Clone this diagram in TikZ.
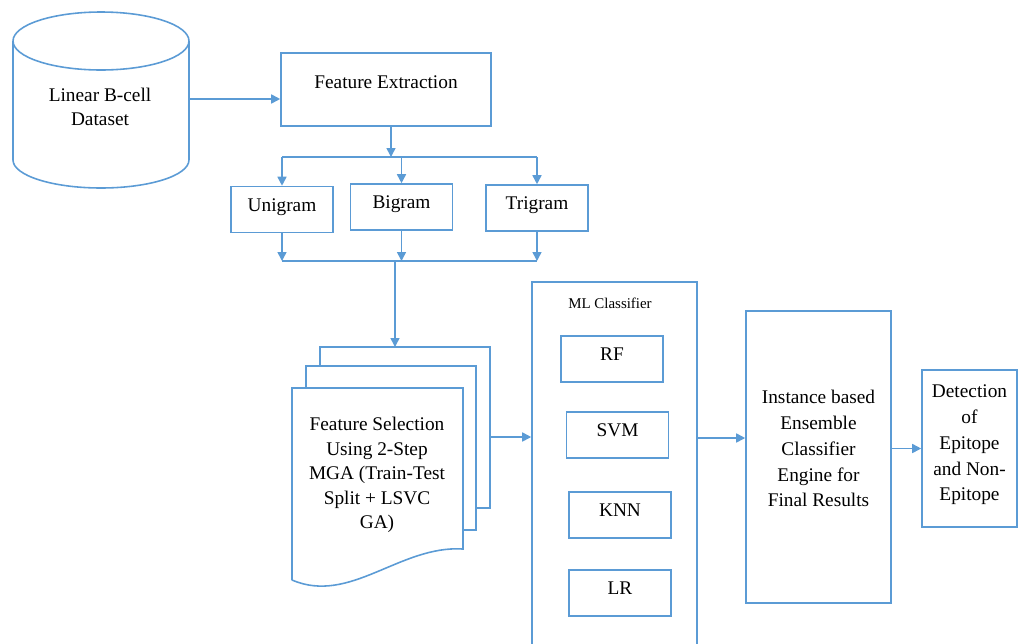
\documentclass[tikz,border=0pt]{standalone}
\usepackage{fontspec}
\setmainfont{Liberation Serif}
\usepackage{xcolor}
\usepackage{tikz}
\usetikzlibrary{arrows.meta, positioning}
\definecolor{lineblue}{RGB}{91,155,213}

\begin{document}
\begin{tikzpicture}[
  x=0.02cm, y=-0.02cm,
  box/.style={draw=lineblue, line width=0.9pt, align=center, inner sep=0pt},
  gram/.style={box, minimum width=2.04cm, minimum height=0.92cm, text height=0.26cm, text depth=0.2cm},
  algo/.style={box, minimum width=2.04cm, minimum height=0.92cm, text height=0.26cm, text depth=0.22cm},
  ln/.style={draw=lineblue, line width=0.9pt},
  arr/.style={ln, -{Triangle[length=1.8mm, width=1.8mm]}},
  font=\fontsize{11}{14}\selectfont
]
\clip (0,0) rectangle (1018,643);

% dataset cylinder
\draw[ln] (13,41) -- (13,160) arc[start angle=180, end angle=360, x radius=1.76cm, y radius=0.56cm] -- (189,41);
\draw[ln] (101,41) ellipse[x radius=1.76cm, y radius=0.58cm];
\node[align=center] (db) at (100,107) {Linear B-cell\\Dataset};
\coordinate (dbr) at (189,99);

\node[box, minimum width=4.2cm, minimum height=1.46cm, text height=0.25cm, text depth=0.31cm] (fe) at (386,89.5) {Feature Extraction};
\draw[arr] (dbr) -- (dbr -| fe.west);

% n-gram features
\node[gram] (uni) at (282,209.5) {Unigram};
\node[gram] (big) at (401.5,207) {Bigram};
\node[gram] (tri) at (537,208) {Trigram};

\coordinate (split) at (391,157);
\draw[arr] (fe.south -| split) -- (split);
\draw[ln] (uni.north |- split) -- (tri.north |- split);
\draw[arr] (uni.north |- split) -- (uni.north);
\draw[arr] (big.north |- split) -- (big.north);
\draw[arr] (tri.north |- split) -- (tri.north);

\coordinate (merge) at (395,261);
\draw[arr] (uni.south) -- (uni.south |- merge);
\draw[arr] (big.south) -- (big.south |- merge);
\draw[arr] (tri.south) -- (tri.south |- merge);
\draw[ln] (uni.south |- merge) -- (tri.south |- merge);

% feature selection document stack
\coordinate (stacktop) at (395,347);
\draw[arr] (merge) -- (stacktop);
\draw[ln] (320,366) -- (320,347) -- (490,347) -- (490,508) -- (476,508);
\draw[ln] (306,388) -- (306,366) -- (476,366) -- (476,530) -- (463,530);
\draw[ln] (292,580) -- (292,388) -- (463,388) -- (463,549) .. controls (400,545) and (350,605) .. (292,580);
\node[align=center] (fs) at (377,475) {Feature Selection\\Using 2-Step\\MGA (Train-Test\\Split + LSVC\\GA)};

% classifiers
\node[box, minimum width=3.3cm, minimum height=7.56cm] (ml) at (614.5,471) {};
\node[font=\fontsize{8.5}{10}\selectfont] (mltitle) at (610,303) {ML Classifier};
\node[algo] (rf) at (612,359) {RF};
\node[algo] (svm) at (617.5,435) {SVM};
\node[algo] (knn) at (620,515) {KNN};
\node[algo] (lr) at (620,593) {LR};

\coordinate (stk) at (490,437);
\draw[arr] (stk) -- (stk -| ml.west);

\node[box, minimum width=2.9cm, minimum height=5.84cm, font=\fontsize{11}{14.7}\selectfont, text height=2.34cm, text depth=0.34cm] (ens) at (818.5,457) {Instance based\\Ensemble\\Classifier\\Engine for\\Final Results};
\coordinate (mlout) at (697,438);
\draw[arr] (mlout) -- (mlout -| ens.west);

\node[box, minimum width=1.9cm, minimum height=3.14cm, font=\fontsize{11}{14.7}\selectfont, text height=2.34cm, text depth=0.24cm] (det) at (969.5,448.5) {Detection\\of\\Epitope\\and Non-\\Epitope};
\draw[arr] (ens.east |- det.west) -- (det.west);
\end{tikzpicture}
\end{document}
